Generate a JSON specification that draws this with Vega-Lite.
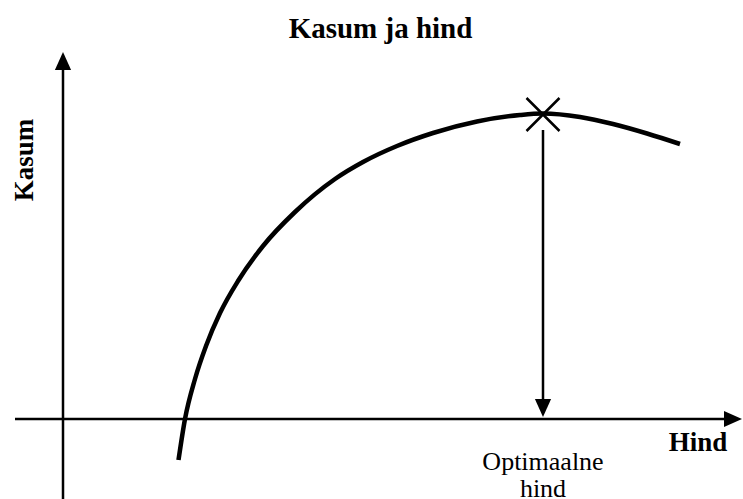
{
  "$schema": "https://vega.github.io/schema/vega-lite/v6.json",
  "width": 743,
  "height": 449,
  "autosize": "none",
  "padding": {"top": 50, "left": 0, "right": 0, "bottom": 0},
  "background": "white",
  "title": {
    "text": "Kasum ja hind",
    "font": "Liberation Serif",
    "fontSize": 29,
    "fontWeight": "bold",
    "color": "black",
    "anchor": "middle",
    "dx": 9,
    "offset": 6
  },
  "config": {"view": {"stroke": null}},
  "datasets": {
    "curve": [
      {"x": 11.55, "y": -4.1},
      {"x": 12.2, "y": 0.0},
      {"x": 13.2, "y": 4.0},
      {"x": 14.3, "y": 7.3},
      {"x": 15.7, "y": 10.6},
      {"x": 17.5, "y": 13.8},
      {"x": 20.0, "y": 17.3},
      {"x": 23.2, "y": 20.7},
      {"x": 27.2, "y": 24.0},
      {"x": 30.0, "y": 25.7},
      {"x": 33.4, "y": 27.3},
      {"x": 37.0, "y": 28.6},
      {"x": 41.4, "y": 29.75},
      {"x": 45.7, "y": 30.4},
      {"x": 48.0, "y": 30.55},
      {"x": 51.7, "y": 30.2},
      {"x": 55.0, "y": 29.5},
      {"x": 58.4, "y": 28.55},
      {"x": 61.7, "y": 27.5}
    ],
    "lines": [
      {"name": "Hind-telg", "x": -4.8, "y": 0, "x2": 66.8, "y2": 0},
      {"name": "Kasum-telg", "x": 0, "y": -8.0, "x2": 0, "y2": 35.5},
      {"name": "optimum", "x": 48.0, "y": 28.9, "x2": 48.0, "y2": 1.0}
    ],
    "heads": [
      {"dir": "up", "x": 0, "y": 36.7},
      {"dir": "right", "x": 67.9, "y": 0},
      {"dir": "down", "x": 48.0, "y": 0.2}
    ],
    "optimum": [
      {"x": 48.0, "y": 30.45}
    ],
    "boldLabels": [
      {"label": "Kasum", "x": -3.0, "y": 25.9, "rot": 270},
      {"label": "Hind", "x": 63.5, "y": -3.2, "rot": 0}
    ],
    "notes": [
      {"label": "Optimaalne\nhind", "x": 48.0, "y": -5.05}
    ]
  },
  "encoding": {
    "x": {"field": "x", "type": "quantitative", "scale": {"domain": [-6.3, 68.0], "nice": false, "zero": false}, "axis": null},
    "y": {"field": "y", "type": "quantitative", "scale": {"domain": [-8.0, 36.9], "nice": false, "zero": false}, "axis": null}
  },
  "layer": [
    {
      "data": {"name": "lines"},
      "mark": {"type": "rule", "color": "black", "strokeWidth": 2.5},
      "encoding": {
        "x2": {"field": "x2"},
        "y2": {"field": "y2"}
      }
    },
    {
      "data": {"name": "curve"},
      "mark": {"type": "line", "color": "black", "strokeWidth": 4.5, "interpolate": "monotone"},
      "encoding": {}
    },
    {
      "data": {"name": "heads"},
      "mark": {"type": "point", "filled": true, "color": "black", "opacity": 1, "size": 1296, "strokeWidth": 0},
      "encoding": {
        "shape": {
          "field": "dir",
          "type": "nominal",
          "scale": {
            "domain": ["up", "right", "down"],
            "range": ["M0,0L-0.45,1L0.45,1Z", "M0,0L-1,-0.45L-1,0.45Z", "M0,0L-0.45,-1L0.45,-1Z"]
          },
          "legend": null
        }
      }
    },
    {
      "data": {"name": "optimum"},
      "mark": {"type": "point", "shape": "M-1,-1L1,1M-1,1L1,-1", "filled": false, "color": "black", "opacity": 1, "size": 1089, "strokeWidth": 2.5},
      "encoding": {}
    },
    {
      "data": {"name": "boldLabels"},
      "mark": {"type": "text", "font": "Liberation Serif", "fontSize": 27, "fontWeight": "bold", "color": "black", "align": "center", "baseline": "alphabetic"},
      "encoding": {
        "text": {"field": "label"},
        "angle": {"field": "rot", "type": "quantitative", "scale": null}
      }
    },
    {
      "data": {"name": "notes"},
      "mark": {"type": "text", "font": "Liberation Serif", "fontSize": 26, "color": "black", "align": "center", "baseline": "alphabetic", "lineBreak": "\n", "lineHeight": 27},
      "encoding": {
        "text": {"field": "label"}
      }
    }
  ]
}
